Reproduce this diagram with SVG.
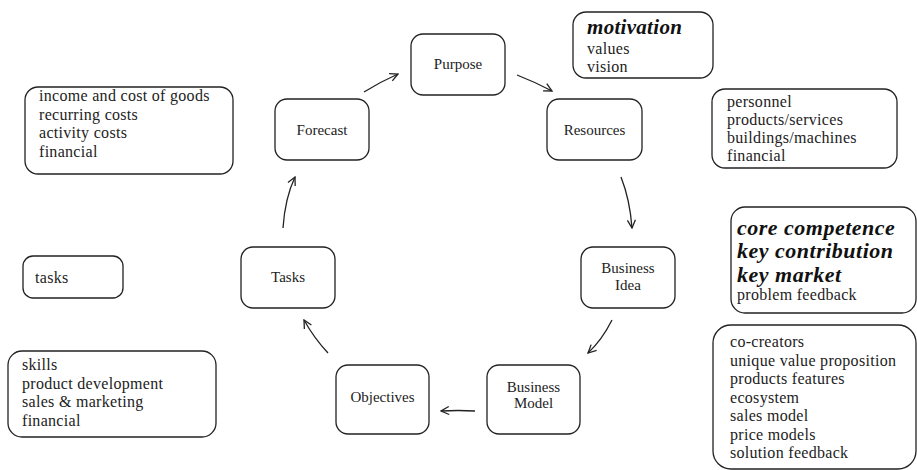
<svg xmlns="http://www.w3.org/2000/svg" width="917" height="470" viewBox="0 0 917 470">
<defs>
<style>
.node rect{fill:#fff;stroke:#222;stroke-width:1.3}
.box rect{fill:#fff;stroke:#222;stroke-width:1.3}
.nt{font-family:"Liberation Serif","Times New Roman",serif;font-size:15px;fill:#222;text-anchor:middle}
.bt{font-family:"Liberation Serif","Times New Roman",serif;font-size:16px;letter-spacing:0.3px;fill:#222}
.bi{font-family:"Liberation Serif","Times New Roman",serif;font-size:22px;font-weight:bold;font-style:italic;letter-spacing:0.5px;fill:#111}
#connectors path{fill:none;stroke:#222;stroke-width:1.3;marker-end:url(#arr)}
</style>
<marker id="arr" viewBox="0 0 10 10" refX="9" refY="5" markerWidth="10" markerHeight="10" markerUnits="userSpaceOnUse" orient="auto">
<path d="M1,1 L9,5 L1,9" fill="none" stroke="#222" stroke-width="1.3"/>
</marker>
</defs>
<rect width="917" height="470" fill="#fff"/>

<g id="connectors">
<path d="M364,92 Q380,82 398,74"/>
<path d="M517,75 Q535,82 552,91"/>
<path d="M621,177 Q630,200 632,228"/>
<path d="M612,320 Q602,340 588,353"/>
<path d="M475,411 Q458,410 441,411"/>
<path d="M328,353 Q314,338 304,320"/>
<path d="M283,228 Q285,198 295,177"/>
</g>

<g id="purpose" class="node"><rect x="411" y="34" width="94" height="61" rx="12"/><text class="nt" x="458" y="69">Purpose</text></g>
<g id="forecast" class="node"><rect x="275" y="99" width="94" height="61" rx="12"/><text class="nt" x="322" y="135">Forecast</text></g>
<g id="resources" class="node"><rect x="547" y="99" width="95" height="61" rx="12"/><text class="nt" x="594.5" y="135">Resources</text></g>
<g id="business-idea" class="node"><rect x="581" y="247" width="94" height="61" rx="12"/><text class="nt" x="628" y="273">Business</text><text class="nt" x="628" y="290">Idea</text></g>
<g id="business-model" class="node"><rect x="487" y="365" width="93" height="69" rx="12"/><text class="nt" x="533.5" y="392">Business</text><text class="nt" x="533.5" y="408">Model</text></g>
<g id="objectives" class="node"><rect x="336" y="365" width="93" height="69" rx="12"/><text class="nt" x="382.5" y="402">Objectives</text></g>
<g id="tasks" class="node"><rect x="241" y="247" width="94" height="61" rx="12"/><text class="nt" x="288" y="282">Tasks</text></g>

<g id="motivation-box" class="box"><rect x="573" y="12" width="140" height="66" rx="13"/>
<text class="bi" x="587" y="34" style="font-size:21px;letter-spacing:0.3px">motivation</text>
<text class="bt" x="587" y="54">values</text>
<text class="bt" x="587" y="72">vision</text></g>

<g id="resources-box" class="box"><rect x="712" y="89" width="185" height="79" rx="13"/>
<text class="bt" x="727" y="107">personnel</text>
<text class="bt" x="727" y="125">products/services</text>
<text class="bt" x="727" y="143">buildings/machines</text>
<text class="bt" x="727" y="161">financial</text></g>

<g id="idea-box" class="box"><rect x="731" y="207" width="185" height="106" rx="14"/>
<text class="bi" x="737" y="235">core competence</text>
<text class="bi" x="737" y="258">key contribution</text>
<text class="bi" x="737" y="282">key market</text>
<text class="bt" x="737" y="300">problem feedback</text></g>

<g id="model-box" class="box"><rect x="713" y="325" width="203" height="144" rx="18"/>
<text class="bt" x="730" y="347">co-creators</text>
<text class="bt" x="730" y="365.5">unique value proposition</text>
<text class="bt" x="730" y="384">products features</text>
<text class="bt" x="730" y="402.5">ecosystem</text>
<text class="bt" x="730" y="421">sales model</text>
<text class="bt" x="730" y="439.5">price models</text>
<text class="bt" x="730" y="458">solution feedback</text></g>

<g id="forecast-box" class="box"><rect x="25" y="87" width="208" height="87" rx="13"/>
<text class="bt" x="39" y="101">income and cost of goods</text>
<text class="bt" x="39" y="119.5">recurring costs</text>
<text class="bt" x="39" y="138">activity costs</text>
<text class="bt" x="39" y="156.5">financial</text></g>

<g id="tasks-box" class="box"><rect x="23" y="256" width="100" height="42" rx="10"/>
<text class="bt" x="35" y="283">tasks</text></g>

<g id="objectives-box" class="box"><rect x="8" y="351" width="208" height="86" rx="14"/>
<text class="bt" x="22" y="370">skills</text>
<text class="bt" x="22" y="388.5">product development</text>
<text class="bt" x="22" y="407">sales &amp; marketing</text>
<text class="bt" x="22" y="425.5">financial</text></g>
</svg>
